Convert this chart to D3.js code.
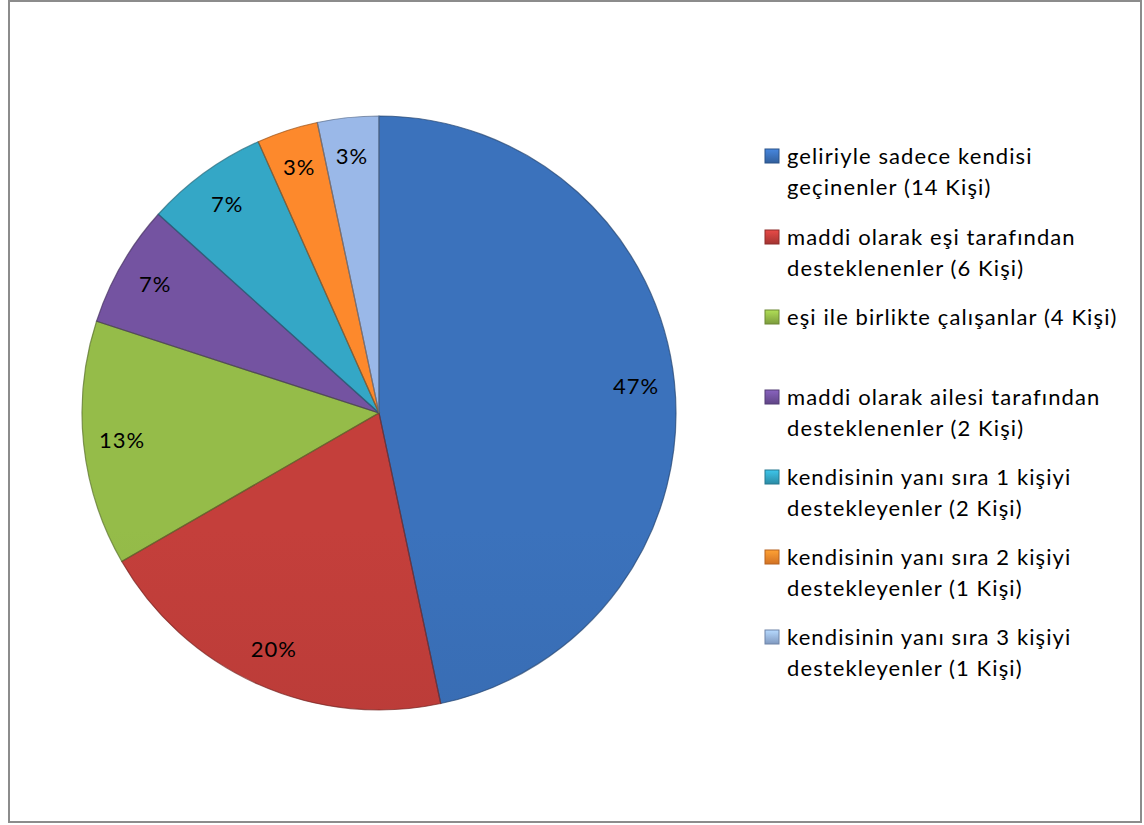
<!DOCTYPE html>
<html>
<head>
<meta charset="utf-8">
<script src="https://cdn.jsdelivr.net/npm/d3@7"></script>
<style>
  body { margin: 0; background: #fff; }
</style>
</head>
<body>
<script>
var w = 1144;
var h = 825;

var categories = [
    ["geliriyle sadece kendisi", "geçinenler (14 Kişi)"],
    ["maddi olarak eşi tarafından", "desteklenenler (6 Kişi)"],
    ["eşi ile birlikte çalışanlar (4 Kişi)"],
    ["maddi olarak ailesi tarafından", "desteklenenler (2 Kişi)"],
    ["kendisinin yanı sıra 1 kişiyi", "destekleyenler (2 Kişi)"],
    ["kendisinin yanı sıra 2 kişiyi", "destekleyenler (1 Kişi)"],
    ["kendisinin yanı sıra 3 kişiyi", "destekleyenler (1 Kişi)"]
];
var values = [14, 6, 4, 2, 2, 1, 1];
var labels = ["47%", "20%", "13%", "7%", "7%", "3%", "3%"];
var colors = ["#396db4", "#bc3c39", "#8fb446", "#6f509a", "#32a0be", "#f2832a", "#94b0de"];

var cx = 379, cy = 413, r = 297;

var svg = d3.select("body").append("svg").attr("width", w).attr("height", h);

// frame
svg.append("rect")
    .attr("x", 9).attr("y", 1)
    .attr("width", 1132).attr("height", 821)
    .attr("fill", "#fff")
    .attr("stroke", "#8c8c8c")
    .attr("stroke-width", 2);

var defs = svg.append("defs");

colors.forEach((c, i) => {
    var g = defs.append("linearGradient")
        .attr("id", "grad" + i)
        .attr("gradientUnits", "userSpaceOnUse")
        .attr("x1", 0).attr("y1", cy - r)
        .attr("x2", 0).attr("y2", cy + r);
    g.append("stop").attr("offset", "0%").attr("stop-color", d3.color(c).brighter(0.12));
    g.append("stop").attr("offset", "100%").attr("stop-color", d3.color(c).darker(0.3));
});

var pie = d3.pie().sort(null).value(d => d);
var arcs = pie(values);

var arc = d3.arc().innerRadius(0).outerRadius(r);
var labelArc = d3.arc().innerRadius(r * 0.87).outerRadius(r * 0.87);

var chart = svg.append("g").attr("transform", "translate(" + cx + "," + cy + ")");

// clip paths for bevel
arcs.forEach((d, i) => {
    defs.append("clipPath").attr("id", "clip" + i)
        .append("path")
        .attr("transform", "translate(" + cx + "," + cy + ")")
        .attr("d", arc(d));
});

//Drawing the slices
chart.selectAll("path.slice")
    .data(arcs).enter()
    .append("path")
    .attr("class", "slice")
    .attr("d", arc)
    .attr("fill", (d, i) => "url(#grad" + i + ")");

// bevel glow on slice edges
svg.selectAll("path.bevel")
    .data(arcs).enter()
    .append("path")
    .attr("class", "bevel")
    .attr("transform", "translate(" + cx + "," + cy + ")")
    .attr("clip-path", (d, i) => "url(#clip" + i + ")")
    .attr("d", arc)
    .attr("fill", "none")
    .attr("stroke", (d, i) => d3.color(colors[i]).brighter(0.7))
    .attr("stroke-opacity", 0.5)
    .attr("stroke-width", 8);

chart.selectAll("path.edge")
    .data(arcs).enter()
    .append("path")
    .attr("class", "edge")
    .attr("d", arc)
    .attr("fill", "none")
    .attr("stroke", (d, i) => d3.color(colors[i]).darker(1.3))
    .attr("stroke-opacity", 0.7)
    .attr("stroke-width", 1.2);

//Drawing the labels
chart.selectAll("text.pct")
    .data(arcs).enter()
    .append("text")
    .attr("class", "pct")
    .text((d, i) => labels[i])
    .attr("x", d => labelArc.centroid(d)[0])
    .attr("y", d => labelArc.centroid(d)[1])
    .attr("text-anchor", "middle")
    .attr("dy", "0.35em")
    .attr("font-family", "Lato, sans-serif")
    .attr("font-size", "22px")
    .attr("letter-spacing", "1px")
    .attr("fill", "#000");

// legend
var legendY = [156, 237, 317, 397, 477, 557, 637];
var legend = svg.append("g");

categories.forEach((lines, i) => {
    var y = legendY[i];
    var lg = defs.append("linearGradient").attr("id", "lg" + i)
        .attr("x1", 0).attr("y1", 0).attr("x2", 0).attr("y2", 1);
    lg.append("stop").attr("offset", "0%").attr("stop-color", d3.color(colors[i]).brighter(0.6));
    lg.append("stop").attr("offset", "100%").attr("stop-color", d3.color(colors[i]).darker(0.4));

    legend.append("rect")
        .attr("x", 765).attr("y", y - 7)
        .attr("width", 14).attr("height", 14)
        .attr("fill", "url(#lg" + i + ")")
        .attr("stroke", d3.color(colors[i]).darker(0.8))
        .attr("stroke-width", 1);

    lines.forEach((t, j) => {
        legend.append("text")
            .attr("x", 787)
            .attr("y", y + j * 31)
            .attr("dy", "0.35em")
            .attr("font-family", "Lato, sans-serif")
            .attr("font-size", "22px")
            .attr("letter-spacing", "1.1px")
            .attr("fill", "#000")
            .text(t);
    });
});
</script>
</body>
</html>
